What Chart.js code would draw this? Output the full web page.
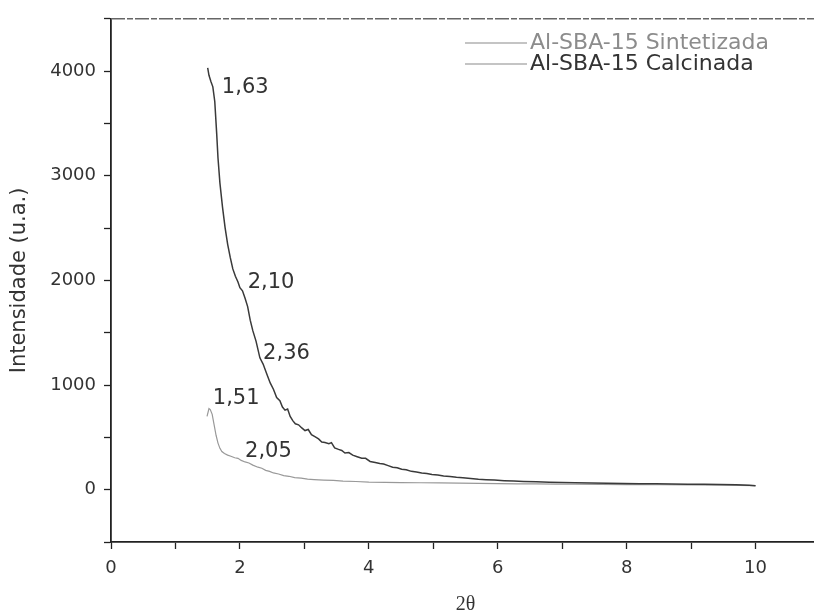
<!DOCTYPE html>
<html>
<head>
<meta charset="utf-8">
<script src="https://cdn.jsdelivr.net/npm/chart.js@4"></script>
<style>
  html, body { margin: 0; padding: 0; background: #fff; overflow: hidden; }
  #wrap { width: 830px; height: 620px; }
</style>
</head>
<body>
<div id="wrap"><canvas id="xrd"></canvas></div>
<script>
const seriesNames = ['Al-SBA-15 Sintetizada', 'Al-SBA-15 Calcinada'];

// Sintetizada (dark trace)
const sintX = [1.50, 1.52, 1.55, 1.58, 1.61, 1.64, 1.66, 1.69, 1.73, 1.77, 1.81, 1.85, 1.89, 1.93, 1.97, 2.00,
  2.04, 2.08, 2.12, 2.16, 2.20, 2.25, 2.31, 2.36, 2.42, 2.47, 2.52, 2.57, 2.62, 2.66, 2.70, 2.74,
  2.78, 2.82, 2.86, 2.91, 2.96, 3.01, 3.06, 3.11, 3.17, 3.22, 3.27, 3.32, 3.38, 3.42, 3.47, 3.53,
  3.58, 3.63, 3.69, 3.75, 3.82, 3.89, 3.95, 4.02, 4.10, 4.17, 4.23, 4.30, 4.37, 4.44, 4.51, 4.58,
  4.66, 4.74, 4.82, 4.90, 4.98, 5.07, 5.16, 5.26, 5.36, 5.46, 5.58, 5.70, 5.82, 5.95, 6.10, 6.25,
  6.40, 6.60, 6.80, 7.00, 7.20, 7.45, 7.70, 7.95, 8.20, 8.45, 8.70, 8.95, 9.20, 9.45, 9.70, 9.90, 10.00];
const sintY = [4030, 3960, 3900, 3850, 3710, 3400, 3170, 2930, 2700, 2505, 2345, 2220, 2110, 2040, 1985, 1930,
  1900, 1830, 1750, 1620, 1520, 1420, 1260, 1200, 1100, 1020, 960, 880, 850, 790, 760, 770,
  700, 660, 630, 620, 590, 565, 575, 525, 505, 485, 455, 450, 440, 450, 400, 385,
  375, 350, 355, 330, 315, 300, 300, 270, 260, 250, 245, 230, 215, 210, 195, 190,
  175, 170, 160, 155, 145, 140, 130, 125, 118, 115, 108, 100, 96, 92, 86, 82,
  79, 75, 72, 68, 66, 63, 61, 58, 57, 56, 55, 53, 52, 50, 47, 43, 38];

// Calcinada (light trace)
const calcX = [1.49, 1.52, 1.54, 1.57, 1.60, 1.63, 1.66, 1.69, 1.72, 1.76, 1.81, 1.86, 1.92, 1.97, 2.02, 2.08,
  2.14, 2.20, 2.28, 2.34, 2.40, 2.46, 2.52, 2.60, 2.68, 2.76, 2.85, 2.95, 3.05, 3.15, 3.30, 3.45,
  3.60, 3.80, 4.00, 4.25, 4.50, 4.80, 5.10, 5.40, 5.70, 6.00, 6.30, 6.60, 6.90, 7.20, 7.60, 8.00,
  8.50, 9.00, 9.50, 10.00];
const calcY = [700, 775, 765, 720, 620, 520, 445, 395, 365, 345, 330, 320, 305, 300, 280, 265,
  255, 235, 215, 205, 185, 175, 160, 150, 135, 128, 115, 110, 100, 96, 92, 88,
  82, 78, 72, 70, 68, 66, 65, 62, 60, 58, 56, 55, 54, 52, 50, 49,
  47, 46, 43, 38];

const xTickLabels = [0, 2, 4, 6, 8, 10];
const yTickLabels = [0, 1000, 2000, 3000, 4000];
const peakLabels = ['1,63', '2,10', '2,36', '1,51', '2,05'];

// where each peak label sits, in data units (left edge, vertical middle)
const peakAnchor = [[1.72, 3840], [2.12, 1980], [2.36, 1300], [1.58, 870], [2.08, 360]];

const pts = (xs, ys) => xs.map((v, i) => ({ x: v, y: ys[i] }));
const FONT = '"DejaVu Sans", "Liberation Sans", sans-serif';

const extras = {
  id: 'extras',
  afterDraw(chart) {
    const { ctx, chartArea: a, scales: { x, y } } = chart;
    ctx.save();
    // top frame (scanned, broken-looking line)
    ctx.strokeStyle = '#666';
    ctx.lineWidth = 1.5;
    ctx.setLineDash([14, 2, 6, 2]);
    ctx.beginPath(); ctx.moveTo(a.left, a.top); ctx.lineTo(a.right, a.top); ctx.stroke();
    ctx.setLineDash([]);

    // peak labels
    ctx.font = '21px ' + FONT;
    ctx.fillStyle = '#333';
    ctx.textAlign = 'left';
    ctx.textBaseline = 'middle';
    peakLabels.forEach((t, i) => {
      ctx.fillText(t, x.getPixelForValue(peakAnchor[i][0]), y.getPixelForValue(peakAnchor[i][1]));
    });

    // legend (top right, stacked)
    const lx = 465, ly = 43, gap = 21;
    const textCol = ['#8c8c8c', '#333'];
    ctx.font = '22px ' + FONT;
    seriesNames.forEach((name, i) => {
      ctx.strokeStyle = '#8a8a8a';
      ctx.lineWidth = 1.2;
      ctx.beginPath(); ctx.moveTo(lx, ly + i * gap); ctx.lineTo(lx + 62, ly + i * gap); ctx.stroke();
      ctx.fillStyle = textCol[i];
      ctx.fillText(name, lx + 65, ly + i * gap);
    });
    ctx.restore();
  }
};

new Chart(document.getElementById('xrd'), {
  type: 'line',
  data: {
    datasets: [
      { label: seriesNames[0], data: pts(sintX, sintY), borderColor: '#3a3a3a', borderWidth: 1.5, pointRadius: 0, tension: 0 },
      { label: seriesNames[1], data: pts(calcX, calcY), borderColor: '#999', borderWidth: 1.2, pointRadius: 0, tension: 0 }
    ]
  },
  options: {
    responsive: true,
    maintainAspectRatio: false,
    animation: false,
    layout: { padding: { top: 15, right: 10, left: 0, bottom: 0 } },
    plugins: { legend: { display: false }, tooltip: { enabled: false } },
    scales: {
      x: {
        type: 'linear', min: 0, max: 11,
        afterFit: (s) => { s.height = 78; },
        border: { color: '#222', width: 1.8 },
        grid: { drawOnChartArea: false, tickLength: 7, tickColor: '#222', tickWidth: 1.3 },
        ticks: {
          stepSize: 1, autoSkip: false, maxRotation: 0, padding: 9, color: '#333',
          font: { family: FONT, size: 18 },
          callback: (v) => xTickLabels.includes(v) ? String(v) : ''
        },
        title: { display: true, text: '2θ', color: '#333', font: { family: '"Liberation Serif", serif', size: 20 }, padding: { top: 0, bottom: 3 } }
      },
      y: {
        min: -500, max: 4500,
        afterFit: (s) => { s.width = 111; },
        border: { color: '#222', width: 1.8 },
        grid: { drawOnChartArea: false, tickLength: 7, tickColor: '#222', tickWidth: 1.3 },
        ticks: {
          stepSize: 500, autoSkip: false, padding: 8, color: '#333',
          font: { family: FONT, size: 18 },
          callback: (v) => yTickLabels.includes(v) ? String(v) : ''
        },
        title: { display: true, text: 'Intensidade (u.a.)', color: '#333', font: { family: FONT, size: 21 }, padding: { top: 7, bottom: 0 } }
      }
    }
  },
  plugins: [extras]
});
</script>
</body>
</html>
